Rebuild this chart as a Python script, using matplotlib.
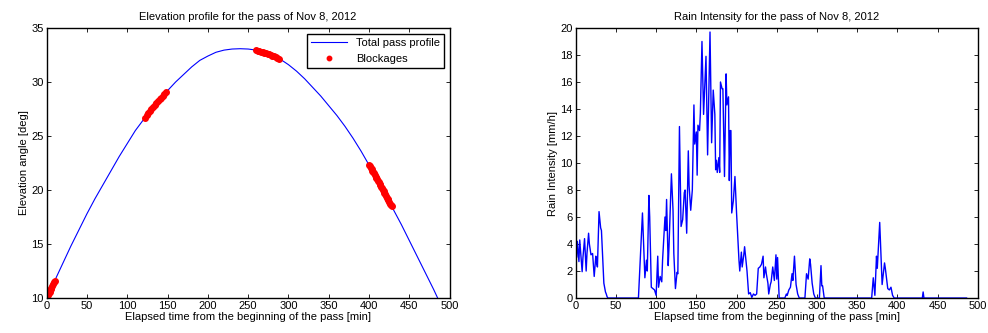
import numpy as np
import matplotlib.pyplot as plt

plt.rcParams['font.family'] = ['Liberation Sans', 'DejaVu Sans']
plt.rcParams['font.size'] = 8

# elevation profile of the pass [min], [deg]
elev_t = [0, 10, 20, 30, 40, 50, 60, 70, 80, 90, 100, 110, 120, 130, 140, 150,
          160, 170, 180, 190, 200, 210, 220, 230, 240, 250, 260, 270, 280, 290,
          300, 310, 320, 330, 340, 350, 360, 370, 380, 390, 400, 410, 420, 430,
          440, 450, 460, 470, 480, 485]
elev_deg = [10.0, 11.6, 13.2, 14.8, 16.3, 17.8, 19.2, 20.5, 21.8, 23.1, 24.3,
            25.5, 26.5, 27.5, 28.4, 29.2, 30.0, 30.7, 31.4, 32.0, 32.4, 32.75,
            32.95, 33.05, 33.08, 33.05, 32.95, 32.7, 32.45, 32.1, 31.6, 31.0,
            30.3, 29.5, 28.7, 27.8, 26.9, 25.9, 24.8, 23.6, 22.3, 21.0, 19.6,
            18.2, 16.8, 15.3, 13.8, 12.3, 10.8, 10.0]

# blockage samples
block_t = [0, 1, 2, 3, 4, 5, 6, 7, 8, 9, 10,
           122, 124, 126, 128, 130, 132, 134, 136, 138, 140, 142, 144, 146, 148,
           260, 262, 264, 266, 268, 270, 272, 274, 276, 278, 280, 282, 284, 286, 288,
           400, 401, 402, 403, 404, 405, 406, 407, 408, 409, 410, 411, 412, 413,
           414, 415, 416, 417, 418, 419, 420, 421, 422, 423, 424, 425, 426, 427, 428]
block_deg = [10.0, 10.15, 10.3, 10.45, 10.6, 10.8, 10.95, 11.1, 11.3, 11.45, 11.6,
             26.7, 26.9, 27.1, 27.3, 27.5, 27.7, 27.9, 28.05, 28.25, 28.4, 28.55,
             28.7, 28.9, 29.05,
             32.95, 32.9, 32.85, 32.8, 32.75, 32.7, 32.65, 32.6, 32.55, 32.5,
             32.45, 32.4, 32.3, 32.2, 32.15,
             22.3, 22.2, 22.05, 21.9, 21.8, 21.7, 21.55, 21.4, 21.25, 21.1, 21.0,
             20.85, 20.7, 20.6, 20.45, 20.3, 20.15, 20.0, 19.9, 19.75, 19.6,
             19.45, 19.3, 19.2, 19.05, 18.9, 18.75, 18.6, 18.5]

# rain intensity [min], [mm/h]
rain_t = [0, 1, 2, 4, 5, 8, 9, 11, 13, 14, 16, 17, 19, 21, 23, 25, 26, 27, 29,
          31, 32, 35, 37, 38, 39, 40, 78, 83, 86, 88, 89, 91, 92, 94, 96, 98,
          100, 102, 103, 105, 107, 108, 111, 112, 113, 115, 116, 119, 121, 122,
          124, 126, 127, 129, 131, 133, 135, 136, 138, 140, 141, 143, 145, 147,
          148, 150, 151, 152, 154, 155, 157, 159, 162, 164, 167, 169, 171, 173,
          174, 175, 176, 178, 179, 180, 182, 183, 185, 187, 188, 190, 191, 192,
          193, 194, 196, 198, 200, 203, 204, 206, 207, 209, 210, 213, 215, 217,
          219, 221, 223, 225, 227, 229, 231, 233, 234, 236, 237, 239, 240, 242,
          243, 245, 247, 249, 250, 251, 253, 260, 262, 263, 265, 267, 269, 270,
          272, 274, 276, 278, 285, 287, 289, 291, 292, 294, 296, 298, 303, 305,
          306, 307, 309, 368, 370, 372, 374, 375, 378, 381, 384, 385, 388, 390,
          392, 394, 396, 431, 432, 433, 486]
rain_mmh = [6.1, 3.0, 4.2, 2.7, 4.3, 1.95, 3.0, 4.4, 2.0, 3.3, 4.8, 4.0, 3.2,
            3.3, 1.6, 3.1, 2.6, 2.3, 6.4, 5.2, 5.0, 1.1, 0.45, 0.3, 0.1, 0, 0,
            6.3, 1.5, 2.8, 2.0, 7.6, 6.0, 0.8, 0.7, 0.6, 0.2, 3.1, 0.8, 1.6, 1.2,
            2.8, 6.0, 5.0, 7.3, 2.4, 3.8, 9.2, 6.5, 3.3, 0.7, 1.9, 1.8, 12.7, 5.3,
            5.8, 7.8, 8.0, 4.8, 10.9, 8.3, 6.5, 8.0, 14.3, 11.4, 12.3, 9.1, 12.8,
            12.4, 13.7, 19.0, 13.6, 17.9, 10.6, 19.7, 11.5, 15.4, 13.6, 9.5, 10.2,
            9.3, 10.4, 9.3, 16.0, 15.5, 15.5, 9.0, 16.6, 14.3, 14.9, 8.7, 12.4,
            12.4, 6.3, 7.2, 9.0, 6.3, 2.8, 2.0, 3.4, 2.3, 3.2, 3.8, 2.0, 0.3, 0.4,
            0.05, 0.3, 0.2, 0.3, 2.2, 2.3, 2.5, 3.1, 1.5, 2.3, 1.8, 1.1, 0.3, 1.0,
            1.2, 2.3, 1.3, 3.2, 1.4, 3.0, 0, 0, 0.3, 0.2, 0.6, 0.8, 1.8, 1.3, 3.1,
            1.0, 0.3, 0, 0, 1.8, 1.4, 2.9, 2.5, 1.1, 0.3, 0, 0, 2.4, 0.9, 0.9, 0,
            0, 1.5, 0.2, 3.1, 2.2, 5.6, 1.0, 2.6, 2.2, 0.7, 0.6, 0.8, 0.2, 0, 0,
            0.45, 0, 0]

fig = plt.figure(figsize=(9.88, 3.33), dpi=100)
ax1 = fig.add_axes([0.0472, 0.105, 0.408, 0.811])
ax2 = fig.add_axes([0.5827, 0.105, 0.407, 0.811])

ax1.plot(elev_t, elev_deg, color=(0, 0, 1), linewidth=0.8, label="Total pass profile")
ax1.plot(block_t, block_deg, "r.", markersize=8, label="Blockages")
ax1.set_xlim(0, 500)
ax1.set_ylim(10, 35)
ax1.set_xlabel("Elapsed time from the beginning of the pass [min]", labelpad=1)
ax1.set_ylabel("Elevation angle [deg]", labelpad=2)
ax1.set_title("Elevation profile for the pass of Nov 8, 2012", fontsize=8, pad=6)
leg = ax1.legend(loc="upper right", fancybox=False, edgecolor="black",
                 framealpha=1, borderaxespad=0.5, handlelength=3.2, markerscale=0.8)
leg.get_frame().set_linewidth(1.0)

ax2.plot(rain_t, rain_mmh, color=(0, 0, 1), linewidth=1.0)
ax2.set_xlim(0, 500)
ax2.set_ylim(0, 20)
ax2.set_yticks(range(0, 21, 2))
ax2.set_xlabel("Elapsed time from the beginning of the pass [min]", labelpad=1)
ax2.set_ylabel("Rain Intensity [mm/h]", labelpad=2)
ax2.set_title("Rain Intensity for the pass of Nov 8, 2012", fontsize=8, pad=6)

for ax in (ax1, ax2):
    ax.set_xticks(range(0, 501, 50))
    ax.tick_params(direction="in", top=True, right=True, length=3, width=0.6, pad=2)
    for s in ax.spines.values():
        s.set_linewidth(1.0)

plt.savefig("out.png", dpi=100)
